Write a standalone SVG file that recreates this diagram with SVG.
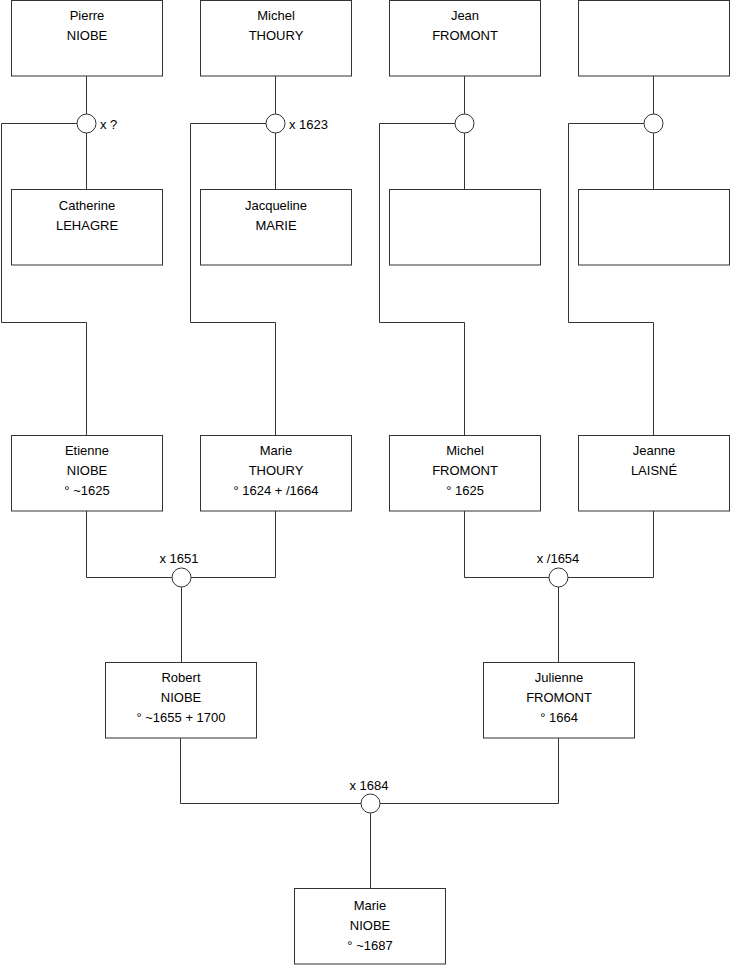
<svg xmlns="http://www.w3.org/2000/svg" width="740" height="975" viewBox="0 0 740 975">
<style>
.box{fill:#fff;stroke:#333;stroke-width:1}
.ln{fill:none;stroke:#333;stroke-width:1}
.cir{fill:#fff;stroke:#333;stroke-width:1}
text{font-family:"Liberation Sans",Arial,sans-serif;font-size:13px;fill:#000}
.c{text-anchor:middle}
</style>
<rect width="740" height="975" fill="#fff"/>
<g id="connectors">
<path class="ln" d="M86.5 76V189M275.5 76V189M464.5 76V189M653.5 76V189"/>
<path class="ln" d="M77 123.5H1.5V322.5H86.5V435"/>
<path class="ln" d="M266 123.5H190.5V322.5H275.5V435"/>
<path class="ln" d="M455 123.5H379.5V322.5H464.5V435"/>
<path class="ln" d="M644 123.5H568.5V322.5H653.5V435"/>
<path class="ln" d="M86.5 511V577.5H275.5V511M181.5 577.5V662"/>
<path class="ln" d="M464.5 511V577.5H653.5V511M558.5 577.5V662"/>
<path class="ln" d="M180.5 738V803.5H558.5V738M370.5 803.5V888"/>
<circle class="cir" cx="86.5" cy="123.5" r="9.5"/>
<circle class="cir" cx="275.5" cy="123.5" r="9.5"/>
<circle class="cir" cx="464.5" cy="123.5" r="9.5"/>
<circle class="cir" cx="653.5" cy="123.5" r="9.5"/>
<circle class="cir" cx="181.5" cy="577.5" r="9.5"/>
<circle class="cir" cx="558.5" cy="577.5" r="9.5"/>
<circle class="cir" cx="370.5" cy="803.5" r="9.5"/>
<text x="100" y="128.5">x ?</text>
<text x="289" y="128.5">x 1623</text>
<text class="c" x="179" y="562.5">x 1651</text>
<text class="c" x="558" y="562.5">x /1654</text>
<text class="c" x="369" y="789.5">x 1684</text>
</g>
<g id="pierre"><rect class="box" x="11.5" y="0.5" width="151" height="75.5"/><text class="c" x="87" y="20">Pierre</text><text class="c" x="87" y="40">NIOBE</text></g>
<g id="michel_thoury"><rect class="box" x="200.5" y="0.5" width="151" height="75.5"/><text class="c" x="276" y="20">Michel</text><text class="c" x="276" y="40">THOURY</text></g>
<g id="jean"><rect class="box" x="389.5" y="0.5" width="151" height="75.5"/><text class="c" x="465" y="20">Jean</text><text class="c" x="465" y="40">FROMONT</text></g>
<g id="unknown1"><rect class="box" x="578.5" y="0.5" width="151" height="75.5"/></g>
<g id="catherine"><rect class="box" x="11.5" y="189.5" width="151" height="75.5"/><text class="c" x="87" y="210">Catherine</text><text class="c" x="87" y="230">LEHAGRE</text></g>
<g id="jacqueline"><rect class="box" x="200.5" y="189.5" width="151" height="75.5"/><text class="c" x="276" y="210">Jacqueline</text><text class="c" x="276" y="230">MARIE</text></g>
<g id="unknown2"><rect class="box" x="389.5" y="189.5" width="151" height="75.5"/></g>
<g id="unknown3"><rect class="box" x="578.5" y="189.5" width="151" height="75.5"/></g>
<g id="etienne"><rect class="box" x="11.5" y="435.5" width="151" height="75.5"/><text class="c" x="87" y="455">Etienne</text><text class="c" x="87" y="475">NIOBE</text><text class="c" x="87" y="495">° ~1625</text></g>
<g id="marie_thoury"><rect class="box" x="200.5" y="435.5" width="151" height="75.5"/><text class="c" x="276" y="455">Marie</text><text class="c" x="276" y="475">THOURY</text><text class="c" x="276" y="495">° 1624 + /1664</text></g>
<g id="michel_fromont"><rect class="box" x="389.5" y="435.5" width="151" height="75.5"/><text class="c" x="465" y="455">Michel</text><text class="c" x="465" y="475">FROMONT</text><text class="c" x="465" y="495">° 1625</text></g>
<g id="jeanne"><rect class="box" x="578.5" y="435.5" width="151" height="75.5"/><text class="c" x="654" y="455">Jeanne</text><text class="c" x="654" y="475">LAISNÉ</text></g>
<g id="robert"><rect class="box" x="105.5" y="662.5" width="151" height="75.5"/><text class="c" x="181" y="682">Robert</text><text class="c" x="181" y="702">NIOBE</text><text class="c" x="181" y="722">° ~1655 + 1700</text></g>
<g id="julienne"><rect class="box" x="483.5" y="662.5" width="151" height="75.5"/><text class="c" x="559" y="682">Julienne</text><text class="c" x="559" y="702">FROMONT</text><text class="c" x="559" y="722">° 1664</text></g>
<g id="marie_niobe"><rect class="box" x="294.5" y="888.5" width="151" height="75.5"/><text class="c" x="370" y="910">Marie</text><text class="c" x="370" y="930">NIOBE</text><text class="c" x="370" y="950">° ~1687</text></g>
</svg>
